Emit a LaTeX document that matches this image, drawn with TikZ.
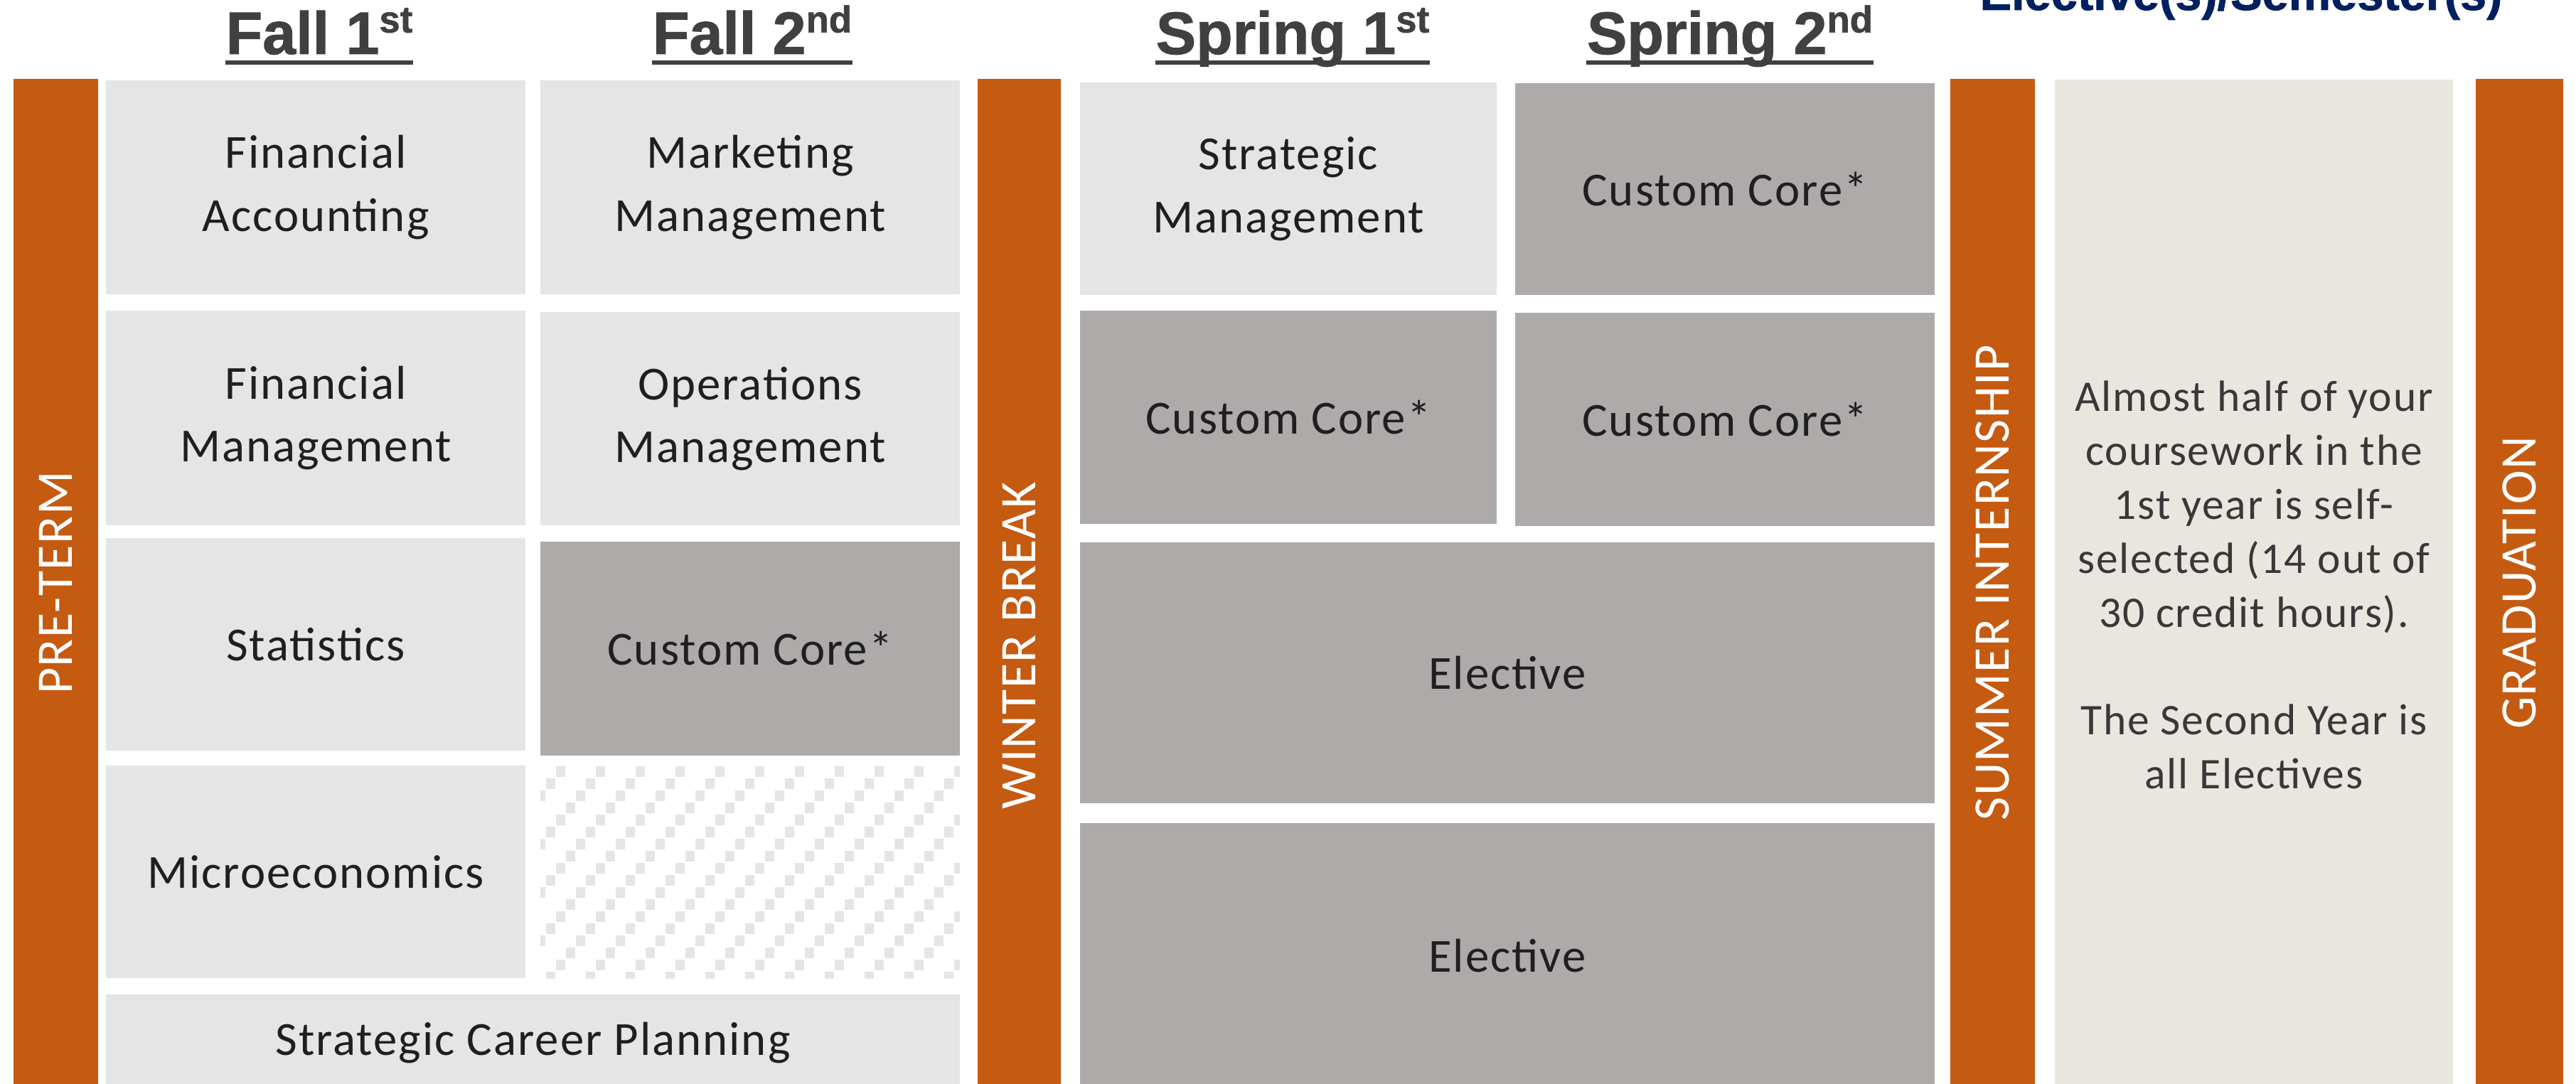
\documentclass[tikz,border=0pt]{standalone}
\usepackage{fontspec}
\setmainfont{Carlito}
\newfontfamily\coursefont{Carlito}[LetterSpace=3]
\newfontfamily\barfont{Carlito}[LetterSpace=2]
\newfontfamily\headfont{Liberation Sans}[FakeBold=1.2]

\definecolor{utorange}{HTML}{C55A11}
\definecolor{corelight}{HTML}{E5E5E5}
\definecolor{coredark}{HTML}{AEAAAA}
\definecolor{notepanel}{HTML}{E9E6E0}
\definecolor{headgray}{HTML}{404040}
\definecolor{navyhead}{HTML}{002060}

\newcommand{\ordsup}[1]{\raisebox{0.36em}{\fontsize{15}{15}\selectfont #1}}

\tikzset{
	course/.style={rectangle, fill=corelight, inner sep=0pt, align=center, text=black!88, font=\coursefont\fontsize{19}{25.2}\selectfont},
	custom/.style={course, fill=coredark},
	breakbar/.style={rectangle, fill=utorange, inner sep=0pt, rotate=90, text=white, font=\barfont\fontsize{20.5}{24}\selectfont},
	semhead/.style={anchor=base, inner sep=0pt, text=headgray, font=\headfont\bfseries\fontsize{24}{28}\selectfont},
	headline/.style={headgray, line width=0.06cm},
	hatchsq/.style={fill=corelight},
}

\begin{document}
\begin{tikzpicture}[x=1cm,y=-1cm]
	\path[use as bounding box, fill=white] (0,0) rectangle (36.23,15.25);

	% semester headings
	\node (f1h)	at	(4.49,0.76)	[semhead]{Fall 1\ordsup{st}};
	\node (f2h)	at	(10.58,0.76)	[semhead]{Fall 2\ordsup{nd}};
	\node (s1h)	at	(18.18,0.76)	[semhead]{Spring 1\ordsup{st}};
	\node (s2h)	at	(24.33,0.76)	[semhead]{Spring 2\ordsup{nd}};
	\draw[headline] ([yshift=-0.12cm]f1h.base west) -- ([yshift=-0.12cm]f1h.base east);
	\draw[headline] ([yshift=-0.12cm]f2h.base west) -- ([yshift=-0.12cm]f2h.base east);
	\draw[headline] ([yshift=-0.12cm]s1h.base west) -- ([yshift=-0.12cm]s1h.base east);
	\draw[headline] ([yshift=-0.12cm]s2h.base west) -- ([yshift=-0.12cm]s2h.base east);

	\node (elecsem)	at	(31.52,0.14)	[anchor=base, inner sep=0pt, text=navyhead, font=\headfont\bfseries\fontsize{19}{21}\selectfont]{Elective(s)/Semester(s)};

	% breaks
	\node (preterm)	at	(0.785,8.20)	[breakbar, minimum width=14.18cm, minimum height=1.19cm]{PRE-TERM};
	\node (winter)	at	(14.335,9.08)	[breakbar, minimum width=15.94cm, minimum height=1.17cm]{WINTER BREAK};
	\node (summer)	at	(28.025,8.20)	[breakbar, minimum width=14.18cm, minimum height=1.19cm]{SUMMER INTERNSHIP};
	\node (grad)	at	(35.435,8.20)	[breakbar, minimum width=14.18cm, minimum height=1.23cm]{GRADUATION};

	% fall 1st
	\node (finacc)	at	(4.44,2.635)	[course, minimum width=5.90cm, minimum height=3.01cm]{Financial\\Accounting};
	\node (finmgmt)	at	(4.44,5.88)	[course, minimum width=5.90cm, minimum height=3.02cm]{Financial\\Management};
	\node (stats)	at	(4.44,9.065)	[course, minimum width=5.90cm, minimum height=2.99cm]{Statistics};
	\node (micro)	at	(4.44,12.265)	[course, minimum width=5.90cm, minimum height=2.99cm]{Microeconomics};
	\node (career)	at	(7.495,14.67)	[course, minimum width=12.01cm, minimum height=1.36cm]{Strategic Career Planning};

	% fall 2nd
	\node (mktg)	at	(10.55,2.635)	[course, minimum width=5.90cm, minimum height=3.01cm]{Marketing\\Management};
	\node (ops)	at	(10.55,5.89)	[course, minimum width=5.90cm, minimum height=3.00cm]{Operations\\Management};
	\node (cc1)	at	(10.55,9.125)	[custom, minimum width=5.90cm, minimum height=3.01cm]{Custom Core*};
	\begin{scope}
		\clip (7.60,10.77) rectangle (13.50,13.76);
		\foreach \i in {0,...,14}
			\foreach \j in {0,...,17}
				\fill[hatchsq] ({7.82+0.56*\i-0.14*\j},{10.78+0.17*\j}) rectangle ++(0.13,0.15);
	\end{scope}

	% spring 1st and 2nd
	\node (stratmgmt)	at	(18.12,2.655)	[course, minimum width=5.86cm, minimum height=2.99cm]{Strategic\\Management};
	\node (cc2)	at	(24.26,2.66)	[custom, minimum width=5.90cm, minimum height=2.98cm]{Custom Core*};
	\node (cc3)	at	(18.12,5.87)	[custom, minimum width=5.86cm, minimum height=3.00cm]{Custom Core*};
	\node (cc4)	at	(24.26,5.90)	[custom, minimum width=5.90cm, minimum height=3.00cm]{Custom Core*};
	\node (elec1)	at	(21.20,9.465)	[custom, minimum width=12.02cm, minimum height=3.67cm]{Elective};
	\node (elec2)	at	(21.20,13.45)	[custom, minimum width=12.02cm, minimum height=3.74cm]{Elective};

	% note
	\node (note)	at	(31.70,8.23)	[rectangle, fill=notepanel, inner sep=0pt, minimum width=5.60cm, minimum height=14.22cm, align=center, text=black!78, font=\coursefont\fontsize{17.5}{21.6}\selectfont]{Almost half of your\\coursework in the\\1st year is self-\\selected (14 out of\\30 credit hours).\\[21.6pt]The Second Year is\\all Electives};

\end{tikzpicture}
\end{document}
